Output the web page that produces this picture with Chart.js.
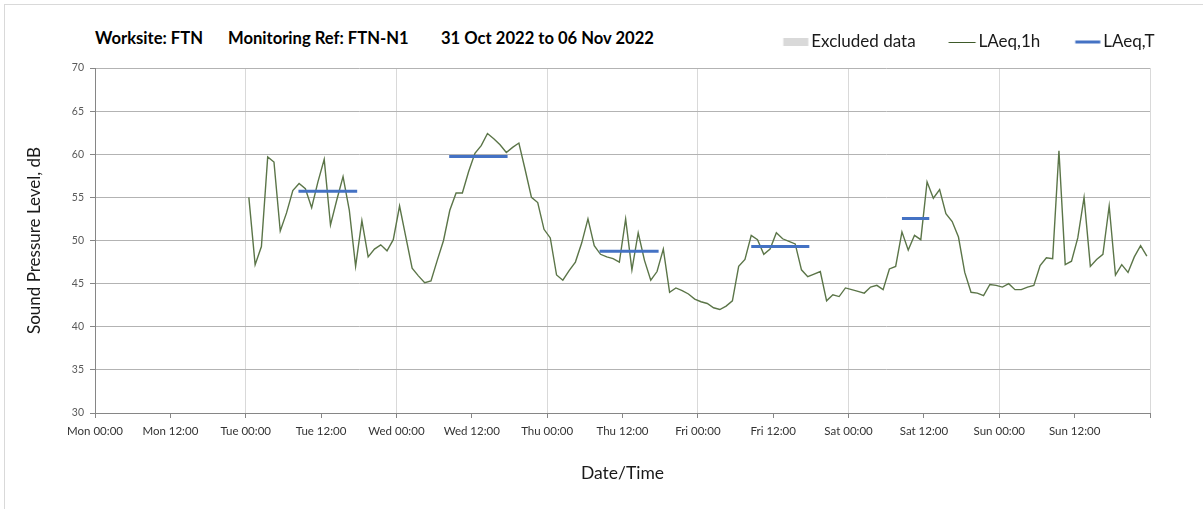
<!DOCTYPE html>
<html><head><meta charset="utf-8">
<script src="https://cdn.jsdelivr.net/npm/chart.js@4/dist/chart.umd.min.js"></script>
<style>
html,body{margin:0;padding:0;background:#fff;}
#wrap{position:relative;width:1203px;height:509px;overflow:hidden;background:#fff;}
#frame{position:absolute;left:4px;top:4px;width:1300px;height:600px;border:1px solid #d9d9d9;}
.tt{position:absolute;top:28px;height:20px;line-height:20px;font-family:Lato;font-weight:bold;font-size:16.6px;white-space:pre;color:#000;}
canvas{position:absolute;left:0;top:0;}
</style></head>
<body><div id="wrap"><div id="frame"></div>
<div class="tt" style="left:95px">Worksite: FTN</div>
<div class="tt" style="left:228px">Monitoring Ref: FTN-N1</div>
<div class="tt" style="left:441px">31 Oct 2022 to 06 Nov 2022</div>
<canvas id="c" width="1203" height="509"></canvas></div>
<script>
// hours are counted from Mon 31 Oct 2022 00:00
const xTickLabels = ['Mon 00:00','Mon 12:00','Tue 00:00','Tue 12:00','Wed 00:00','Wed 12:00','Thu 00:00','Thu 12:00','Fri 00:00','Fri 12:00','Sat 00:00','Sat 12:00','Sun 00:00','Sun 12:00',''];
const yTicks = [30,35,40,45,50,55,60,65,70];
const firstHour = 24.5; // first hourly LAeq,1h sample (Tue 00:00-01:00, plotted mid-hour)
const laeq1h = [
 55.0,47.2,49.3,59.7,59.1,51.1,53.2,55.8,56.6,56.0,53.8,56.8,59.4,51.8,54.7,57.4,53.5,47.0,52.3,48.1,49.0,49.5,48.8,50.1,
 54.0,50.4,46.8,45.9,45.1,45.3,47.7,50.0,53.5,55.5,55.5,58.0,60.1,61.0,62.4,61.8,61.1,60.2,60.8,61.3,58.2,55.0,54.4,51.3,
 50.3,46.0,45.4,46.5,47.5,49.7,52.5,49.4,48.4,48.1,47.9,47.5,52.5,46.6,50.9,47.7,45.4,46.4,49.0,44.0,44.5,44.2,43.8,43.2,
 42.9,42.7,42.2,42.0,42.4,43.0,47.0,47.8,50.6,50.1,48.4,49.0,50.9,50.2,49.9,49.6,46.6,45.8,46.1,46.4,43.0,43.7,43.5,44.5,
 44.3,44.1,43.9,44.6,44.8,44.3,46.7,47.0,51.0,48.9,50.6,50.1,56.8,54.9,55.9,53.1,52.2,50.4,46.3,44.0,43.9,43.6,44.9,44.8,
 44.6,45.0,44.3,44.3,44.6,44.8,47.1,48.0,47.9,60.4,47.2,47.6,50.3,55.0,47.0,47.8,48.4,54.0,46.0,47.2,46.3,48.1,49.4,48.2
];
const laeqTStart = [32.4, 56.4, 80.35, 104.5, 128.5];
const laeqTEnd   = [41.75, 65.7, 89.75, 113.75, 132.85];
const laeqTValue = [55.7, 59.75, 48.75, 49.3, 52.55];

const lineData = laeq1h.map((v,i)=>({x:firstHour+i, y:v}));
const tData = [];
laeqTValue.forEach((v,i)=>{ tData.push({x:laeqTStart[i],y:v},{x:laeqTEnd[i],y:v},{x:laeqTEnd[i]+0.01,y:null}); });

const LEG_FONT = 17, LEG_PAD = 8.5, PSW = 46, SW_W = 60, LEG_TOP = 25, PLOT_TOP = 68;
function swatch(kind){
  const c=document.createElement('canvas'); c.width=SW_W; c.height=10;
  const g=c.getContext('2d');
  const rightEnd = SW_W/2 + PSW/2 + LEG_FONT/2 - 3;
  if(kind==='rect'){ g.fillStyle='#d9d9d9'; g.fillRect(rightEnd-25,1,25,8); }
  else if(kind==='green'){ g.fillStyle='#3e5a2a'; g.fillRect(rightEnd-27,5,27,1); }
  else { g.fillStyle='#4472c4'; g.fillRect(rightEnd-25,3.5,25,3); }
  return c;
}
const sw = {rect:swatch('rect'), green:swatch('green'), blue:swatch('blue')};

const chart = new Chart(document.getElementById('c'), {
  type:'line',
  data:{datasets:[
    {label:'Excluded data', data:[], backgroundColor:'#d9d9d9', borderColor:'#d9d9d9', swatch:'rect'},
    {label:'LAeq,1h', data:lineData, borderColor:'#5b7548', borderWidth:1.4, pointRadius:0, tension:0, order:2, swatch:'green'},
    {label:'LAeq,T', data:tData, borderColor:'#4472c4', borderWidth:3, pointRadius:0, tension:0, spanGaps:false, order:1, borderCapStyle:'butt', swatch:'blue'}
  ]},
  options:{
    responsive:false, animation:false, events:[],
    layout:{padding:{left:0,top:LEG_TOP,right:40,bottom:0}},
    plugins:{
      title:{display:false},
      tooltip:{enabled:false},
      legend:{position:'top', align:'end',
        labels:{usePointStyle:true, pointStyleWidth:PSW, padding:LEG_PAD, color:'#1a1a1a',
          font:{family:'Lato', size:LEG_FONT},
          generateLabels:(ch)=>ch.data.datasets.map((d,i)=>({text:d.label, pointStyle:sw[d.swatch], fillStyle:'transparent', strokeStyle:'transparent', lineWidth:0, datasetIndex:i, hidden:false, fontColor:'#1a1a1a'}))
        }
      }
    },
    scales:{
      x:{type:'linear', min:0, max:168,
        afterFit:(s)=>{s.height=96;},
        afterBuildTicks:(s)=>{s.ticks = xTickLabels.map((t,i)=>({value:i*12}));},
        ticks:{autoSkip:false, maxRotation:0, padding:6, color:'#333', font:{family:'Lato', size:11.5},
          callback:(v,i)=>xTickLabels[i]},
        grid:{color:(c)=> (c.tick && c.tick.value%24===0) ? '#d9d9d9' : 'rgba(0,0,0,0)', tickColor:'#868686', tickLength:5, lineWidth:1},
        border:{color:'#868686'},
        title:{display:true, text:'Date/Time', color:'#1a1a1a', font:{family:'Lato', size:17.5}, padding:{top:0,bottom:25.5}}
      },
      y:{min:30, max:70,
        afterFit:(s)=>{s.width=95;},
        afterBuildTicks:(s)=>{s.ticks = yTicks.map(v=>({value:v}));},
        ticks:{padding:6, color:'#595959', font:{family:'Lato', size:10.5}},
        grid:{color:'#b3b3b3', tickColor:'#868686', tickLength:5},
        border:{color:'#868686'},
        title:{display:true, text:'Sound Pressure Level, dB', color:'#1a1a1a', font:{family:'Lato', size:17}, padding:{top:24.8,bottom:0}}
      },
      y2:{position:'right', display:true, grid:{display:false}, ticks:{display:false}, border:{display:false},
        afterFit:(s)=>{s.width=13;}}
    }
  },
  plugins:[{id:'legendGap', afterInit(ch){ const lg=ch.legend; const f=lg.fit.bind(lg); lg.fit=function(){ f(); this.height = PLOT_TOP - LEG_TOP; }; }}]
});
</script></body></html>
